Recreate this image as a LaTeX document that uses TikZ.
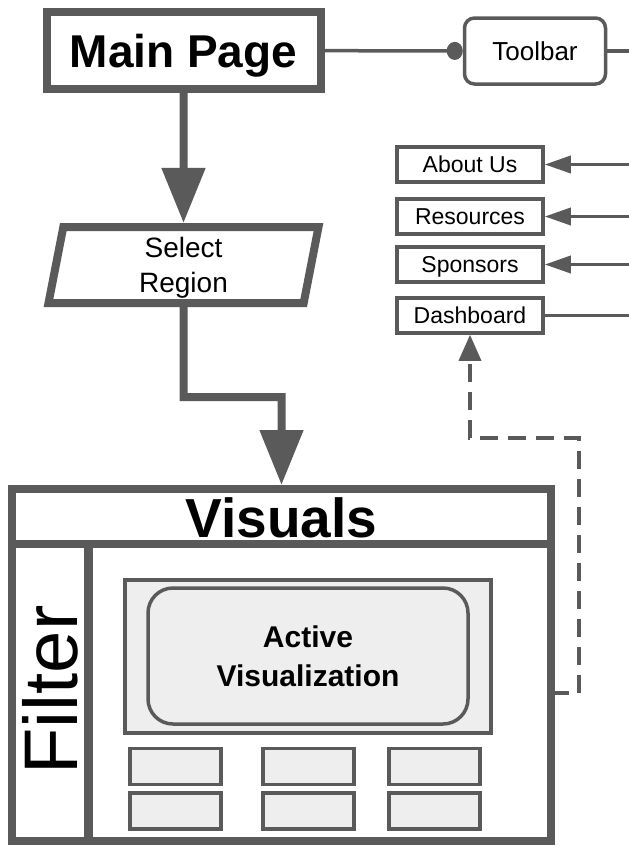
\documentclass[tikz,border=0pt]{standalone}
\usepackage{fontspec}
\setmainfont{Liberation Sans}
\usetikzlibrary{shapes.geometric,arrows.meta}
\definecolor{edgegray}{HTML}{5A5A5A}
\definecolor{panelgray}{HTML}{EEEEEE}
\tikzset{
  heavybox/.style={draw=edgegray, line width=8pt, inner sep=0pt, text depth=0pt},
  thinbox/.style={draw=edgegray, line width=3.5pt, inner sep=0pt, text depth=0pt},
  flow/.style={draw=edgegray, line width=8pt, -{Triangle[length=55pt,width=42pt]}},
  link/.style={draw=edgegray, line width=3.5pt, -{Triangle[length=26pt,width=17pt]}},
  plain/.style={draw=edgegray, line width=3.5pt},
  dashlink/.style={draw=edgegray, line width=3.5pt, dash pattern=on 18pt off 10pt, -{Triangle[length=26pt,width=22pt]}},
}

\begin{document}
\begin{tikzpicture}[x=1pt,y=-1pt]
    \useasboundingbox (0,0) rectangle (629,846);
    % First, locate each of the nodes and name them
    \node[heavybox, minimum width=274pt, minimum height=77pt, font=\fontsize{46}{50}\selectfont\bfseries] (main) at (183.5,50.5) {Main Page};
    \node[thinbox, rounded corners=10pt, minimum width=141pt, minimum height=66pt, font=\fontsize{26}{30}\selectfont] (toolbar) at (535,51) {Toolbar};
    \node[heavybox, trapezium, trapezium left angle=75, trapezium right angle=105, trapezium stretches body, minimum width=270pt, minimum height=76pt, align=center, font=\fontsize{28}{35}\selectfont] (region) at (183.5,265) {Select\\Region};
    \node[thinbox, minimum width=146pt, minimum height=35pt, font=\fontsize{23}{26}\selectfont] (about) at (470,164.5) {About Us};
    \node[thinbox, minimum width=146pt, minimum height=35pt, font=\fontsize{23}{26}\selectfont] (resources) at (470,216.5) {Resources};
    \node[thinbox, minimum width=146pt, minimum height=35pt, font=\fontsize{23}{26}\selectfont] (sponsors) at (470,264.5) {Sponsors};
    \node[thinbox, minimum width=146pt, minimum height=35pt, font=\fontsize{23}{26}\selectfont] (dashboard) at (470,315.5) {Dashboard};
    \node[heavybox, minimum width=539pt, minimum height=352pt] (visuals) at (281.5,665) {};
    \node[anchor=base, inner sep=0pt, font=\fontsize{55}{60}\selectfont\bfseries] (vistitle) at (281.5,537) {Visuals};
    \node[rotate=90, inner sep=0pt, font=\fontsize{76}{80}\selectfont] (filter) at (50.5,690) {Filter};
    \node[thinbox, fill=panelgray, minimum width=366pt, minimum height=153pt] (stage) at (308,656.5) {};
    \node[thinbox, fill=panelgray, rounded corners=25pt, minimum width=320pt, minimum height=136pt, align=center, font=\fontsize{30}{39}\selectfont\bfseries] (active) at (308,656) {Active\\Visualization};
    \foreach \col/\x in {1/175.5, 2/308.5, 3/434.5}
      \foreach \row/\y in {1/766.5, 2/811}
        \node[thinbox, fill=panelgray, minimum width=91pt, minimum height=36pt] (thumb\col\row) at (\x,\y) {};
    \coordinate (elbow) at (183.5,397);
    \coordinate (aboutin) at (629,164.5);
    \coordinate (resourcesin) at (629,216.5);
    \coordinate (sponsorsin) at (629,264.5);
    \coordinate (dashboardout) at (629,315.5);
    \coordinate (toolbarout) at (629,51);
    \coordinate (visout) at (551,693);
    \coordinate (turn) at (579,438);
    % Now draw the lines
    \draw[plain, line width=8pt] (12,544) -- (551,544);
    \draw[plain, line width=9pt] (88,544) -- (88,841);
    \draw[flow] (main) -- (region);
    \draw[flow] (region.south) -- (elbow) -| (visuals.north);
    \draw[plain, -{Circle[length=16pt,width=18pt]}] (main) -- (toolbar);
    \draw[plain] (toolbar) -- (toolbarout);
    \draw[link] (aboutin) -- (about);
    \draw[link] (resourcesin) -- (resources);
    \draw[link] (sponsorsin) -- (sponsors);
    \draw[plain] (dashboardout) -- (dashboard);
    \draw[dashlink] (visout) -| (turn) -| (dashboard.south);
\end{tikzpicture}
\end{document}
